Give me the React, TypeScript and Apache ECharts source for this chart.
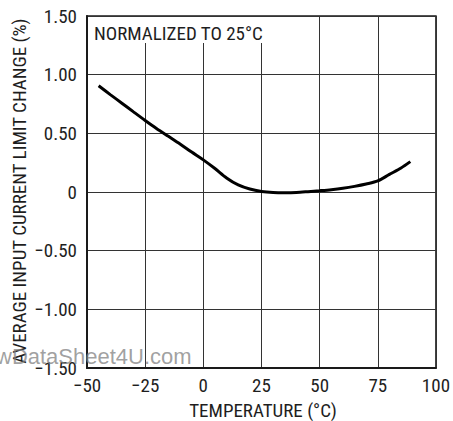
import React, { useEffect, useRef } from "react";
import * as echarts from "echarts";

const temperatures = [-45, -40, -35, -30, -25, -20, -15, -10, -5, 0, 5, 10, 15, 20, 25, 30, 35, 40, 45, 50, 55, 60, 65, 70, 75, 80, 85, 89];
const changes = [0.905, 0.83, 0.757, 0.683, 0.61, 0.54, 0.475, 0.41, 0.34, 0.274, 0.2, 0.12, 0.06, 0.025, 0.005, -0.004, -0.006, -0.004, 0.003, 0.011, 0.02, 0.032, 0.048, 0.068, 0.094, 0.15, 0.205, 0.259];
const xTicks = [-50, -25, 0, 25, 50, 75, 100];
const yTicks = [-1.5, -1.0, -0.5, 0, 0.5, 1.0, 1.5];

const FONT = "'Liberation Sans Narrow', 'Arial Narrow', 'Roboto Condensed', 'Liberation Sans', sans-serif";
const TXT = "#1e1e1e";

const fmtX = (v: number) => (v < 0 ? "\u2212" + Math.abs(v) : String(v));
const fmtY = (v: number) => {
  if (Math.abs(v) < 1e-9) return "0";
  const s = Math.abs(v).toFixed(2);
  return v < 0 ? "\u2212" + s : s;
};

export default function App() {
  const ref = useRef<HTMLDivElement>(null);
  useEffect(() => {
    if (!ref.current) return;
    const chart = echarts.init(ref.current, undefined, { renderer: "svg" });
    chart.setOption({
      animation: false,
      backgroundColor: "#ffffff",
      grid: {
        left: 87,
        right: 15,
        top: 16,
        bottom: 53,
        show: true,
        borderColor: "#1a1a1a",
        borderWidth: 1.5,
      },
      xAxis: {
        type: "value",
        min: xTicks[0],
        max: xTicks[xTicks.length - 1],
        interval: 25,
        axisLine: { show: true, onZero: false, lineStyle: { color: "#1a1a1a", width: 2 } },
        axisTick: { show: false },
        splitLine: { show: true, lineStyle: { color: "#333", width: 1 } },
        axisLabel: {
          formatter: fmtX,
          color: TXT,
          fontFamily: FONT,
          fontSize: 19,
          margin: 8,
        },
      },
      yAxis: {
        type: "value",
        min: yTicks[0],
        max: yTicks[yTicks.length - 1],
        interval: 0.5,
        axisLine: { show: true, onZero: false, lineStyle: { color: "#1a1a1a", width: 2 } },
        axisTick: { show: false },
        splitLine: { show: true, lineStyle: { color: "#333", width: 1 } },
        axisLabel: {
          formatter: fmtY,
          color: TXT,
          fontFamily: FONT,
          fontSize: 19,
          margin: 10,
        },
      },
      series: [
        {
          type: "line",
          data: temperatures.map((t, i) => [t, changes[i]]),
          smooth: 0.3,
          symbol: "none",
          lineStyle: { color: "#000", width: 3 },
          z: 5,
        },
      ],
      graphic: [
        {
          type: "rect",
          shape: { x: 88, y: 17, width: 177, height: 26 },
          style: { fill: "#ffffff" },
          z: 10,
        },
        {
          type: "text",
          x: 94,
          y: 33,
          style: {
            text: "NORMALIZED TO 25°C",
            fill: TXT,
            font: `19px ${FONT}`,
            textAlign: "left",
            textVerticalAlign: "middle",
          },
          z: 11,
        },
        {
          type: "text",
          x: 263,
          y: 410,
          style: {
            text: "TEMPERATURE (°C)",
            fill: TXT,
            font: `19px ${FONT}`,
            textAlign: "center",
            textVerticalAlign: "middle",
          },
          z: 11,
        },
        {
          type: "text",
          x: 19,
          y: 191,
          rotation: Math.PI / 2,
          style: {
            text: "AVERAGE INPUT CURRENT LIMIT CHANGE (%)",
            fill: TXT,
            font: `19px ${FONT}`,
            textAlign: "center",
            textVerticalAlign: "middle",
          },
          z: 11,
        },
        {
          type: "text",
          x: -4,
          y: 356,
          style: {
            text: "wDataSheet4U.com",
            fill: "rgba(130,130,130,0.75)",
            font: "22px 'Liberation Sans', Arial, sans-serif",
            textAlign: "left",
            textVerticalAlign: "middle",
          },
          z: 12,
        },
      ],
    });
    return () => chart.dispose();
  }, []);
  return <div ref={ref} style={{ width: 453, height: 421, position: "absolute", left: 0, top: 0 }} />;
}
